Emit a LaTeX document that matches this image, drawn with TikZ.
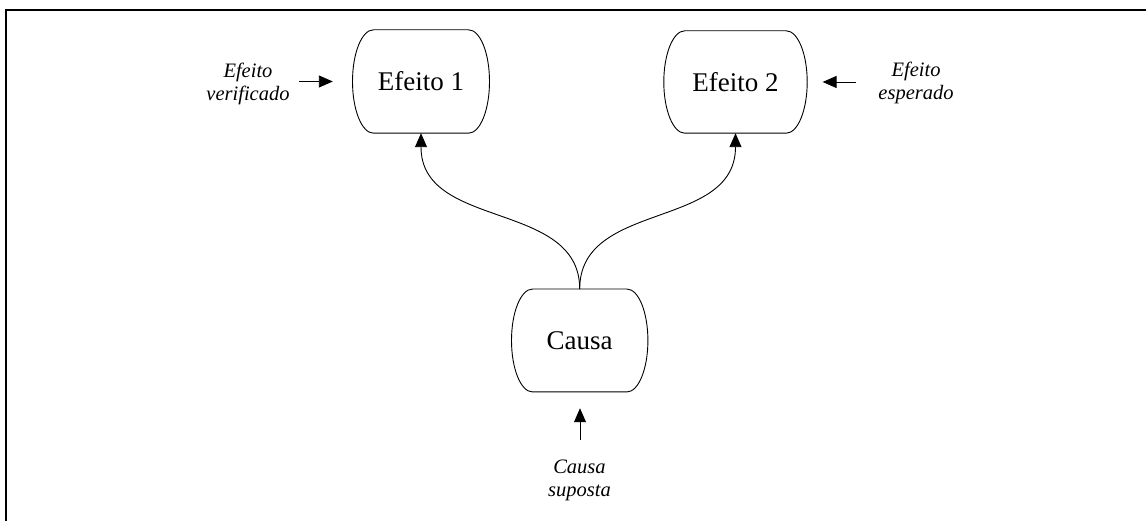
\documentclass[tikz,border=0pt]{standalone}
\usepackage{fontspec}
\setmainfont{Liberation Serif}
\usetikzlibrary{arrows.meta,calc}
\tikzset{
  boxtext/.style={draw=none, inner sep=0pt, font=\fontsize{27}{32}\selectfont},
  note/.style={inner sep=0pt, align=center, anchor=base, font=\fontsize{20.5}{23}\selectfont\itshape},
  outline/.style={line width=0.9pt},
  arr/.style={line width=0.9pt, -{Triangle[length=14pt,width=12pt]}},
  frame/.style={line width=2pt},
}
% barrel outline: flat top and bottom, half-ellipse sides
\newcommand\barrelshape[2][21]{%
  \draw[outline] let \p1=($(#2.north)-(#2.south)$) in
    ($(#2.north west)+(#1,0)$) -- ($(#2.north east)+(-#1,0)$)
    arc[start angle=90, end angle=-90, x radius=#1pt, y radius=0.5*\y1]
    -- ($(#2.south west)+(#1,0)$)
    arc[start angle=270, end angle=90, x radius=#1pt, y radius=0.5*\y1] -- cycle;}
\begin{document}
\begin{tikzpicture}[x=1pt,y=1pt]
\useasboundingbox (0,0) rectangle (1146,521);
% frame (top and left edges)
\draw[frame] (5.8,0) -- (5.8,511) -- (1146,511);

% boxes
\node[boxtext, minimum width=136.6pt, minimum height=103pt] (e1) at (421,439.5) {Efeito 1};
\node[boxtext, minimum width=143pt, minimum height=102pt] (e2) at (735.5,439) {Efeito 2};
\node[boxtext, minimum width=136pt, minimum height=102.5pt] (causa) at (579.7,180.5) {Causa};
\barrelshape{e1}
\barrelshape{e2}
\barrelshape{causa}

% side labels (base = baseline of the last line)
\node[note] (lab1) at (248,420) {Efeito\\verificado};
\node[note] (lab2) at (916,421) {Efeito\\esperado};
\node[note] (lab3) at (579.5,24.3) {Causa\\suposta};

% short pointers
\coordinate (p1) at ($(e1.west)+(-53.7,0)$);
\coordinate (q1) at ($(e1.west)+(-19.7,0)$);
\coordinate (p2) at ($(e2.east)+(48.7,0)$);
\coordinate (q2) at ($(e2.east)+(15.4,0)$);
\coordinate (p3) at ($(causa.south)+(0.3,-48.3)$);
\coordinate (q3) at ($(causa.south)+(0.3,-16.3)$);
\draw[arr] (p1) -- (q1);
\draw[arr] (p2) -- (q2);
\draw[arr] (p3) -- (q3);

% cause to effects
\draw[arr] (causa.north) .. controls +(0,89) and +(0,-97) .. (e1.south);
\draw[arr] (causa.north) .. controls +(0,89) and +(0,-97) .. (e2.south);
\end{tikzpicture}
\end{document}
